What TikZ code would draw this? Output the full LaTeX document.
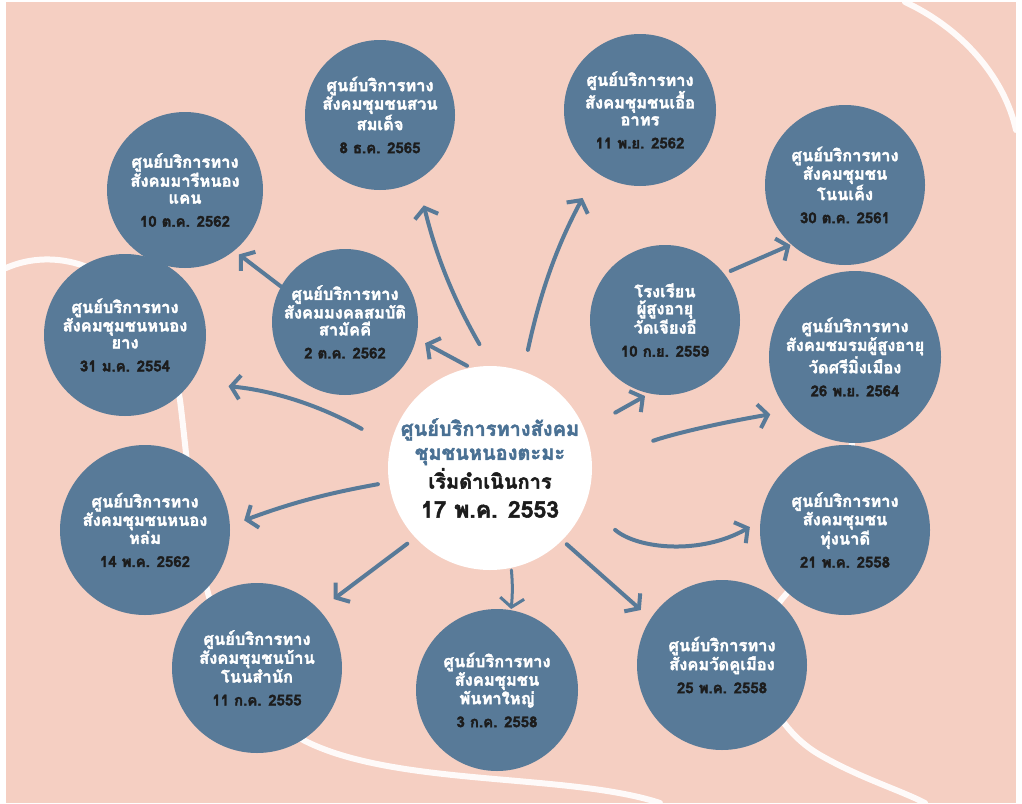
\documentclass[tikz,border=0pt]{standalone}
\usepackage{fontspec}
\newfontfamily\thai[Script=Thai,FakeBold=2.2]{Loma}
\usetikzlibrary{arrows.meta}
\definecolor{bg}{HTML}{F5CFC2}
\definecolor{cblue}{HTML}{587A98}
\definecolor{dark}{HTML}{1C1C1C}
\definecolor{tblue}{HTML}{4A7194}
\newcommand{\dte}[1]{\\[6pt]\textcolor{dark}{\fontsize{15}{16}\selectfont #1}}
\begin{document}
\begin{tikzpicture}[x=1pt,y=-1pt,
  bub/.style={circle,fill=cblue,inner sep=0pt,minimum size=#1,align=center,text=white,
    font=\thai\bfseries\fontsize{16.5}{17}\selectfont},
  arr/.style={draw=cblue,line width=4pt,line cap=round,
    -{Straight Barb[length=9pt,width=24pt]}},
  wave/.style={draw=white,line width=6pt,opacity=0.9,line cap=round}]
\useasboundingbox (0,0) rectangle (1022,803);
\fill[white] (0,0) rectangle (1022,803);
\fill[bg] (6,2) rectangle (1016,803);
% background waves
\draw[wave] (6,268) .. controls (70,240) and (160,280) .. (180,400)
  .. controls (195,520) and (195,640) .. (280,725)
  .. controls (360,790) and (560,770) .. (660,803);
\draw[wave] (870,300) .. controls (850,420) and (860,520) .. (790,590)
  .. controls (740,640) and (760,720) .. (820,755)
  .. controls (860,778) and (900,790) .. (925,803);
\draw[wave] (905,2) .. controls (965,30) and (1005,80) .. (1016,130);
% nodes
\node[circle,fill=white,minimum size=204pt,inner sep=0pt,align=center,
  font=\thai\bfseries\fontsize{20}{24}\selectfont] (c) at (490,468)
  {\textcolor{tblue}{ศูนย์บริการทางสังคม}\\
   \textcolor{tblue}{ชุมชนหนองตะมะ}\\[2pt]
   \textcolor{dark}{เริ่มดำเนินการ}\\[5pt]
   \textcolor{dark}{\fontsize{23}{25}\selectfont 17 พ.ค. 2553}};
\node[bub=150pt] (n1) at (380,115) {ศูนย์บริการทาง\\สังคมชุมชนสวน\\สมเด็จ\dte{8 ธ.ค. 2565}};
\node[bub=152pt] (n2) at (640,110) {ศูนย์บริการทาง\\สังคมชุมชนเอื้อ\\อาทร\dte{11 พ.ย. 2562}};
\node[bub=156pt] (n3) at (185,190) {ศูนย์บริการทาง\\สังคมมารีหนอง\\แคน\dte{10 ต.ค. 2562}};
\node[bub=160pt] (n4) at (845,185) {ศูนย์บริการทาง\\สังคมชุมชน\\โนนเค็ง\dte{30 ต.ค. 2561}};
\node[bub=146pt] (n5) at (345,322) {ศูนย์บริการทาง\\สังคมมงคลสมบัติ\\สามัคคี\dte{2 ต.ค. 2562}};
\node[bub=150pt] (n6) at (665,320) {โรงเรียน\\ผู้สูงอายุ\\วัดเจียงอี\dte{10 ก.ย. 2559}};
\node[bub=162pt] (n7) at (125,335) {ศูนย์บริการทาง\\สังคมชุมชนหนอง\\ยาง\dte{31 ม.ค. 2554}};
\node[bub=172pt] (n8) at (855,357) {ศูนย์บริการทาง\\สังคมชมรมผู้สูงอายุ\\วัดศรีมิ่งเมือง\dte{26 พ.ย. 2564}};
\node[bub=170pt] (n10) at (145,530) {ศูนย์บริการทาง\\สังคมชุมชนหนอง\\หล่ม\dte{14 พ.ค. 2562}};
\node[bub=170pt] (n11) at (845,530) {ศูนย์บริการทาง\\สังคมชุมชน\\ทุ่งนาดี\dte{21 พ.ค. 2558}};
\node[bub=170pt] (n12) at (257,668) {ศูนย์บริการทาง\\สังคมชุมชนบ้าน\\โนนสำนัก\dte{11 ก.ค. 2555}};
\node[bub=162pt] (n13) at (497,690) {ศูนย์บริการทาง\\สังคมชุมชน\\พันทาใหญ่\dte{3 ก.ค. 2558}};
\node[bub=170pt] (n14) at (722,665) {ศูนย์บริการทาง\\สังคมวัดคูเมือง\dte{25 พ.ค. 2558}};
% arrows
\draw[arr,shorten <=25pt,shorten >=26pt] (c.89) to[bend left=8] (n1.300);
\draw[arr,shorten <=22pt,shorten >=29pt] (c.71) to[bend left=8] (n2.235);
\draw[arr,shorten <=4pt,shorten >=10pt] (c.101) to (n5.347);
\draw[arr,shorten >=6pt] (n5.151) to (n3.309);
\draw[arr,shorten <=33pt,shorten >=38pt] (c.167) to[bend right=12] (n7.324);
\draw[arr,shorten <=11pt,shorten >=15pt] (c.188) to[bend right=5] (n10.3);
\draw[arr,shorten <=10pt,shorten >=18pt] (c.223) to (n12.43);
\draw[arr,line width=3pt,shorten <=2pt,shorten >=1pt] (c.282) to[bend left=5] (n13.80);
\draw[arr,shorten <=6pt,shorten >=13pt] (c.315) to (n14.147);
\draw[arr,shorten <=39pt,shorten >=12pt] (c.339) to[bend right=35] (n11.174);
\draw[arr,shorten <=65pt,shorten >=18pt] (c.3.5) to[bend left=5] (n8.219);
\draw[arr,shorten <=35pt,shorten >=5pt] (c.22) to (n6.258);
\draw[arr,shorten <=7pt,shorten >=1pt] (n6.38) to (n4.228);
\end{tikzpicture}
\end{document}
